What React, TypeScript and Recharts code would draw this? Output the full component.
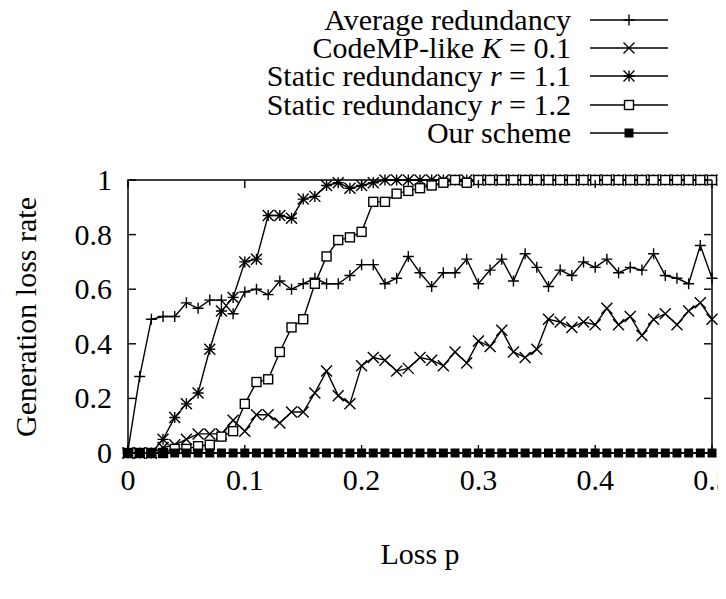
import { LineChart, Line, XAxis, YAxis, ReferenceArea } from 'recharts'

// loss probability p (x axis)
const lossP = [
  0, 0.01, 0.02, 0.03, 0.04, 0.05, 0.06, 0.07, 0.08, 0.09,
  0.1, 0.11, 0.12, 0.13, 0.14, 0.15, 0.16, 0.17, 0.18, 0.19,
  0.2, 0.21, 0.22, 0.23, 0.24, 0.25, 0.26, 0.27, 0.28, 0.29,
  0.3, 0.31, 0.32, 0.33, 0.34, 0.35, 0.36, 0.37, 0.38, 0.39,
  0.4, 0.41, 0.42, 0.43, 0.44, 0.45, 0.46, 0.47, 0.48, 0.49, 0.5,
]

const avgRedundancy = [
  0.01, 0.28, 0.49, 0.5, 0.5, 0.55, 0.53, 0.56, 0.56, 0.51,
  0.59, 0.6, 0.58, 0.63, 0.6, 0.62, 0.64, 0.62, 0.62, 0.65,
  0.69, 0.69, 0.62, 0.64, 0.72, 0.66, 0.61, 0.66, 0.66, 0.71,
  0.62, 0.67, 0.71, 0.63, 0.73, 0.68, 0.61, 0.67, 0.65, 0.7,
  0.68, 0.71, 0.66, 0.68, 0.67, 0.73, 0.65, 0.64, 0.62, 0.76, 0.64,
]

const codeMP = [
  0, 0, 0, 0.02, 0.03, 0.05, 0.07, 0.07, 0.07, 0.12,
  0.08, 0.14, 0.14, 0.11, 0.15, 0.15, 0.22, 0.3, 0.21, 0.18,
  0.32, 0.35, 0.34, 0.3, 0.31, 0.35, 0.34, 0.32, 0.37, 0.33,
  0.41, 0.39, 0.45, 0.37, 0.35, 0.38, 0.49, 0.48, 0.46, 0.48,
  0.47, 0.53, 0.47, 0.5, 0.43, 0.49, 0.51, 0.47, 0.52, 0.55, 0.49,
]

const static11 = [
  0, 0, 0, 0.05, 0.13, 0.18, 0.22, 0.38, 0.52, 0.57,
  0.7, 0.71, 0.87, 0.87, 0.86, 0.93, 0.94, 0.98, 0.99, 0.97,
  0.98, 0.99, 1, 1, 1, 1, 1, 1, 1, 1,
  1, 1, 1, 1, 1, 1, 1, 1, 1, 1,
  1, 1, 1, 1, 1, 1, 1, 1, 1, 1, 1,
]

const static12 = [
  0, 0, 0, 0, 0.015, 0.015, 0.025, 0.03, 0.06, 0.08,
  0.18, 0.26, 0.27, 0.37, 0.46, 0.49, 0.62, 0.72, 0.78, 0.79,
  0.81, 0.92, 0.92, 0.95, 0.96, 0.97, 0.98, 0.99, 1, 0.99,
  1, 1, 1, 1, 1, 1, 1, 1, 1, 1,
  1, 1, 1, 1, 1, 1, 1, 1, 1, 1, 1,
]

const ourScheme = [
  0, 0, 0, 0, 0, 0, 0, 0, 0, 0,
  0, 0, 0, 0, 0, 0, 0, 0, 0, 0,
  0, 0, 0, 0, 0, 0, 0, 0, 0, 0,
  0, 0, 0, 0, 0, 0, 0, 0, 0, 0,
  0, 0, 0, 0, 0, 0, 0, 0, 0, 0, 0,
]

const xTicks = [0, 0.1, 0.2, 0.3, 0.4, 0.5]
const yTicks = [0, 0.2, 0.4, 0.6, 0.8, 1]

const data = lossP.map((p, i) => ({
  p,
  avg: avgRedundancy[i],
  codemp: codeMP[i],
  s11: static11[i],
  s12: static12[i],
  ours: ourScheme[i],
}))

const W = 718
const H = 591
const LEFT = 120
const RIGHT = 704
const TOP = 172
const BOTTOM = 445
const TICK = 8
const FONT = '"Liberation Serif", "DejaVu Serif", serif'
const FS = 30

type Kind = 'plus' | 'cross' | 'star' | 'square' | 'filled'

function Marker({ cx, cy, kind }: { cx?: number; cy?: number; kind: Kind }) {
  if (cx == null || cy == null) return null
  const s = 5.5
  const plus = `M${cx - s},${cy}H${cx + s}M${cx},${cy - s}V${cy + s}`
  const cross = `M${cx - s},${cy - s}L${cx + s},${cy + s}M${cx - s},${cy + s}L${cx + s},${cy - s}`
  if (kind === 'plus') return <path d={plus} stroke="#000" strokeWidth={1.4} fill="none" />
  if (kind === 'cross') return <path d={cross} stroke="#000" strokeWidth={1.4} fill="none" />
  if (kind === 'star') return <path d={plus + cross} stroke="#000" strokeWidth={1.4} fill="none" />
  const q = 4.5
  if (kind === 'square')
    return <rect x={cx - q} y={cy - q} width={2 * q} height={2 * q} stroke="#000" strokeWidth={1.4} fill="#fff" />
  return <rect x={cx - q} y={cy - q} width={2 * q} height={2 * q} fill="#000" />
}

const dotOf = (kind: Kind) => (p: any) => <Marker key={`${kind}-${p.index}`} cx={p.cx} cy={p.cy} kind={kind} />

function XTick(props: any) {
  const { x, payload } = props
  return (
    <g>
      <line x1={x} x2={x} y1={BOTTOM} y2={BOTTOM - TICK} stroke="#000" strokeWidth={1.4} />
      <line x1={x} x2={x} y1={TOP} y2={TOP + TICK} stroke="#000" strokeWidth={1.4} />
      <text x={x} y={BOTTOM + 37} textAnchor="middle" fontFamily={FONT} fontSize={FS} fill="#000">
        {String(payload.value)}
      </text>
    </g>
  )
}

function YTick(props: any) {
  const { y, payload } = props
  return (
    <g>
      <line x1={LEFT} x2={LEFT + TICK} y1={y} y2={y} stroke="#000" strokeWidth={1.4} />
      <line x1={RIGHT} x2={RIGHT - TICK} y1={y} y2={y} stroke="#000" strokeWidth={1.4} />
      <text x={LEFT - 16} y={y + 10} textAnchor="end" fontFamily={FONT} fontSize={FS} fill="#000">
        {String(payload.value)}
      </text>
    </g>
  )
}

const legendRows: { label: React.ReactNode; kind: Kind }[] = [
  { label: 'Average redundancy', kind: 'plus' },
  {
    label: (
      <>
        CodeMP-like <tspan fontStyle="italic">K</tspan> = 0.1
      </>
    ),
    kind: 'cross',
  },
  {
    label: (
      <>
        Static redundancy <tspan fontStyle="italic">r</tspan> = 1.1
      </>
    ),
    kind: 'star',
  },
  {
    label: (
      <>
        Static redundancy <tspan fontStyle="italic">r</tspan> = 1.2
      </>
    ),
    kind: 'square',
  },
  { label: 'Our scheme', kind: 'filled' },
]
const legendY = [12, 40, 68, 97, 125]

export default function App() {
  return (
    <div style={{ position: 'relative', width: W, height: H }}>
      <LineChart width={W} height={H} data={data} margin={{ top: TOP, right: W - RIGHT, bottom: 0, left: 0 }}>
        <XAxis
          dataKey="p"
          type="number"
          domain={[0, 0.5]}
          ticks={xTicks}
          axisLine={false}
          tickLine={false}
          tickSize={0}
          height={H - BOTTOM}
          tick={<XTick />}
          label={{
            content: () => (
              <text x={(LEFT + RIGHT) / 2} y={556} textAnchor="middle" fontFamily={FONT} fontSize={FS} fill="#000">
                Loss p
              </text>
            ),
          }}
        />
        <YAxis
          type="number"
          domain={[0, 1]}
          ticks={yTicks}
          axisLine={false}
          tickLine={false}
          tickSize={0}
          width={LEFT}
          tick={<YTick />}
          label={{
            content: () => (
              <text
                x={28}
                y={309}
                transform="rotate(-90, 28, 309)"
                textAnchor="middle"
                fontFamily={FONT}
                fontSize={FS}
                fill="#000"
              >
                Generation loss rate
              </text>
            ),
          }}
        />
        <ReferenceArea x1={0} x2={0.5} y1={0} y2={1} fill="none" stroke="#000" strokeWidth={1.5} />
        <Line dataKey="avg" type="linear" stroke="#000" strokeWidth={1.4} dot={dotOf('plus')} isAnimationActive={false} />
        <Line dataKey="codemp" type="linear" stroke="#000" strokeWidth={1.4} dot={dotOf('cross')} isAnimationActive={false} />
        <Line dataKey="s11" type="linear" stroke="#000" strokeWidth={1.4} dot={dotOf('star')} isAnimationActive={false} />
        <Line dataKey="s12" type="linear" stroke="#000" strokeWidth={1.4} dot={dotOf('square')} isAnimationActive={false} />
        <Line dataKey="ours" type="linear" stroke="#000" strokeWidth={1.4} dot={dotOf('filled')} isAnimationActive={false} />
      </LineChart>
      <svg width={W} height={150} style={{ position: 'absolute', left: 0, top: 0, overflow: 'visible' }}>
        {legendRows.map((r, i) => (
          <g key={i}>
            <text x={563} y={legendY[i] + 10} textAnchor="end" fontFamily={FONT} fontSize={FS} fill="#000">
              {r.label}
            </text>
            <line x1={582} x2={660} y1={legendY[i]} y2={legendY[i]} stroke="#000" strokeWidth={1.4} />
            <Marker cx={621} cy={legendY[i]} kind={r.kind} />
          </g>
        ))}
      </svg>
    </div>
  )
}
